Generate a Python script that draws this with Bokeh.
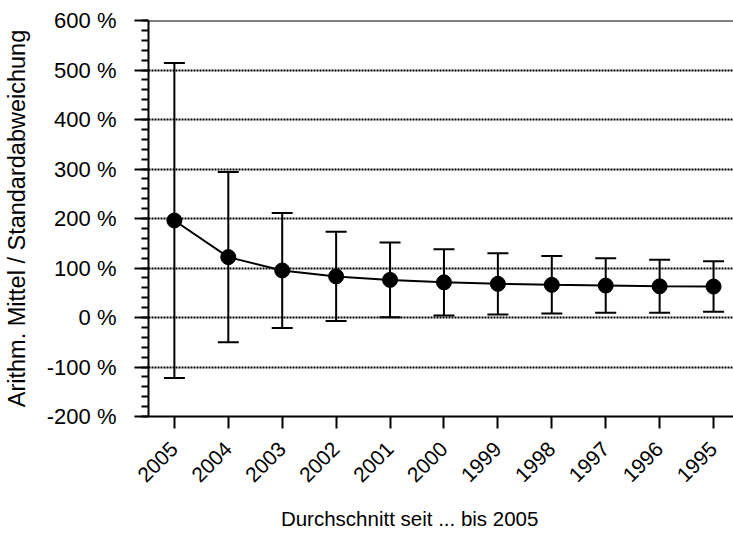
from bokeh.plotting import figure
from bokeh.models import (ColumnDataSource, FixedTicker, Whisker, TeeHead, Span)
from bokeh.embed import file_html
from bokeh.resources import INLINE
from math import pi

# ---- data ----
years = ["2005", "2004", "2003", "2002", "2001", "2000", "1999", "1998", "1997", "1996", "1995"]
mean_pct = [196, 122, 95, 83, 76, 71, 68, 66, 64.5, 63, 62.5]
sd_pct = [318, 172, 116, 90, 75.5, 67, 62, 58, 55, 53.5, 51]
y_ticks = [-200, -100, 0, 100, 200, 300, 400, 500, 600]
x_title = "Durchschnitt seit ... bis 2005"

xs = list(range(len(years)))
upper = [m + s for m, s in zip(mean_pct, sd_pct)]
lower = [m - s for m, s in zip(mean_pct, sd_pct)]
src = ColumnDataSource(dict(x=xs, mean=mean_pct, upper=upper, lower=lower))

FONT = "Liberation Sans"

p = figure(width=733, height=534, output_backend="svg", toolbar_location=None,
           x_range=(-0.48, 10.37), y_range=(-200, 600),
           min_border_left=147, min_border_right=0, min_border_top=20, min_border_bottom=118)
p.outline_line_color = None
p.background_fill_color = "white"
p.border_fill_color = "white"

# grid
p.xgrid.grid_line_color = None
p.ygrid.ticker = FixedTicker(ticks=y_ticks)
p.ygrid.grid_line_color = "black"
p.ygrid.grid_line_width = 1.8
p.ygrid.grid_line_dash = "2 1"

# y axis
yax = p.yaxis[0]
yax.ticker = FixedTicker(ticks=y_ticks, minor_ticks=list(range(-200, 601, 20)))
yax.major_label_overrides = {t: f"{t} %" for t in y_ticks}
yax.axis_line_width = 2
yax.major_tick_line_width = 2
yax.minor_tick_line_width = 2
yax.major_tick_out = 14
yax.major_tick_in = 0
yax.minor_tick_out = 7
yax.minor_tick_in = 0
yax.major_label_standoff = 18
yax.major_label_text_font = FONT
yax.major_label_text_font_size = "22px"
yax.major_label_text_color = "black"
yax.axis_label = "Arithm. Mittel / Standardabweichung"
yax.axis_label_text_font = FONT
yax.axis_label_text_font_size = "23.5px"
yax.axis_label_text_font_style = "normal"
yax.axis_label_text_color = "black"
yax.axis_label_standoff = 14

# x axis
xax = p.xaxis[0]
xax.ticker = FixedTicker(ticks=xs)
xax.major_label_overrides = {i: y for i, y in zip(xs, years)}
xax.major_label_orientation = pi / 4
xax.axis_line_width = 2
xax.major_tick_line_width = 2
xax.major_tick_out = 12
xax.major_tick_in = 0
xax.minor_tick_line_color = None
xax.major_label_standoff = 17
xax.major_label_text_font = FONT
xax.major_label_text_font_size = "21px"
xax.major_label_text_color = "black"
# the original title sits left of the frame centre: pad with trailing no-break spaces
xax.axis_label = x_title + "\u00a0" * 11
xax.axis_label_text_font = FONT
xax.axis_label_text_font_size = "20.5px"
xax.axis_label_text_font_style = "normal"
xax.axis_label_text_color = "black"
xax.axis_label_standoff = 16

# top border
p.add_layout(Span(location=600, dimension="width", line_color="black", line_width=2))

# error bars
p.add_layout(Whisker(source=src, base="x", upper="upper", lower="lower", dimension="height",
                     line_color="black", line_width=2,
                     upper_head=TeeHead(size=21, line_color="black", line_width=2),
                     lower_head=TeeHead(size=21, line_color="black", line_width=2)))

p.line("x", "mean", source=src, line_color="black", line_width=2)
p.scatter("x", "mean", source=src, size=15, fill_color="black", line_color="black")

open("out.html", "w").write(file_html(p, INLINE))
